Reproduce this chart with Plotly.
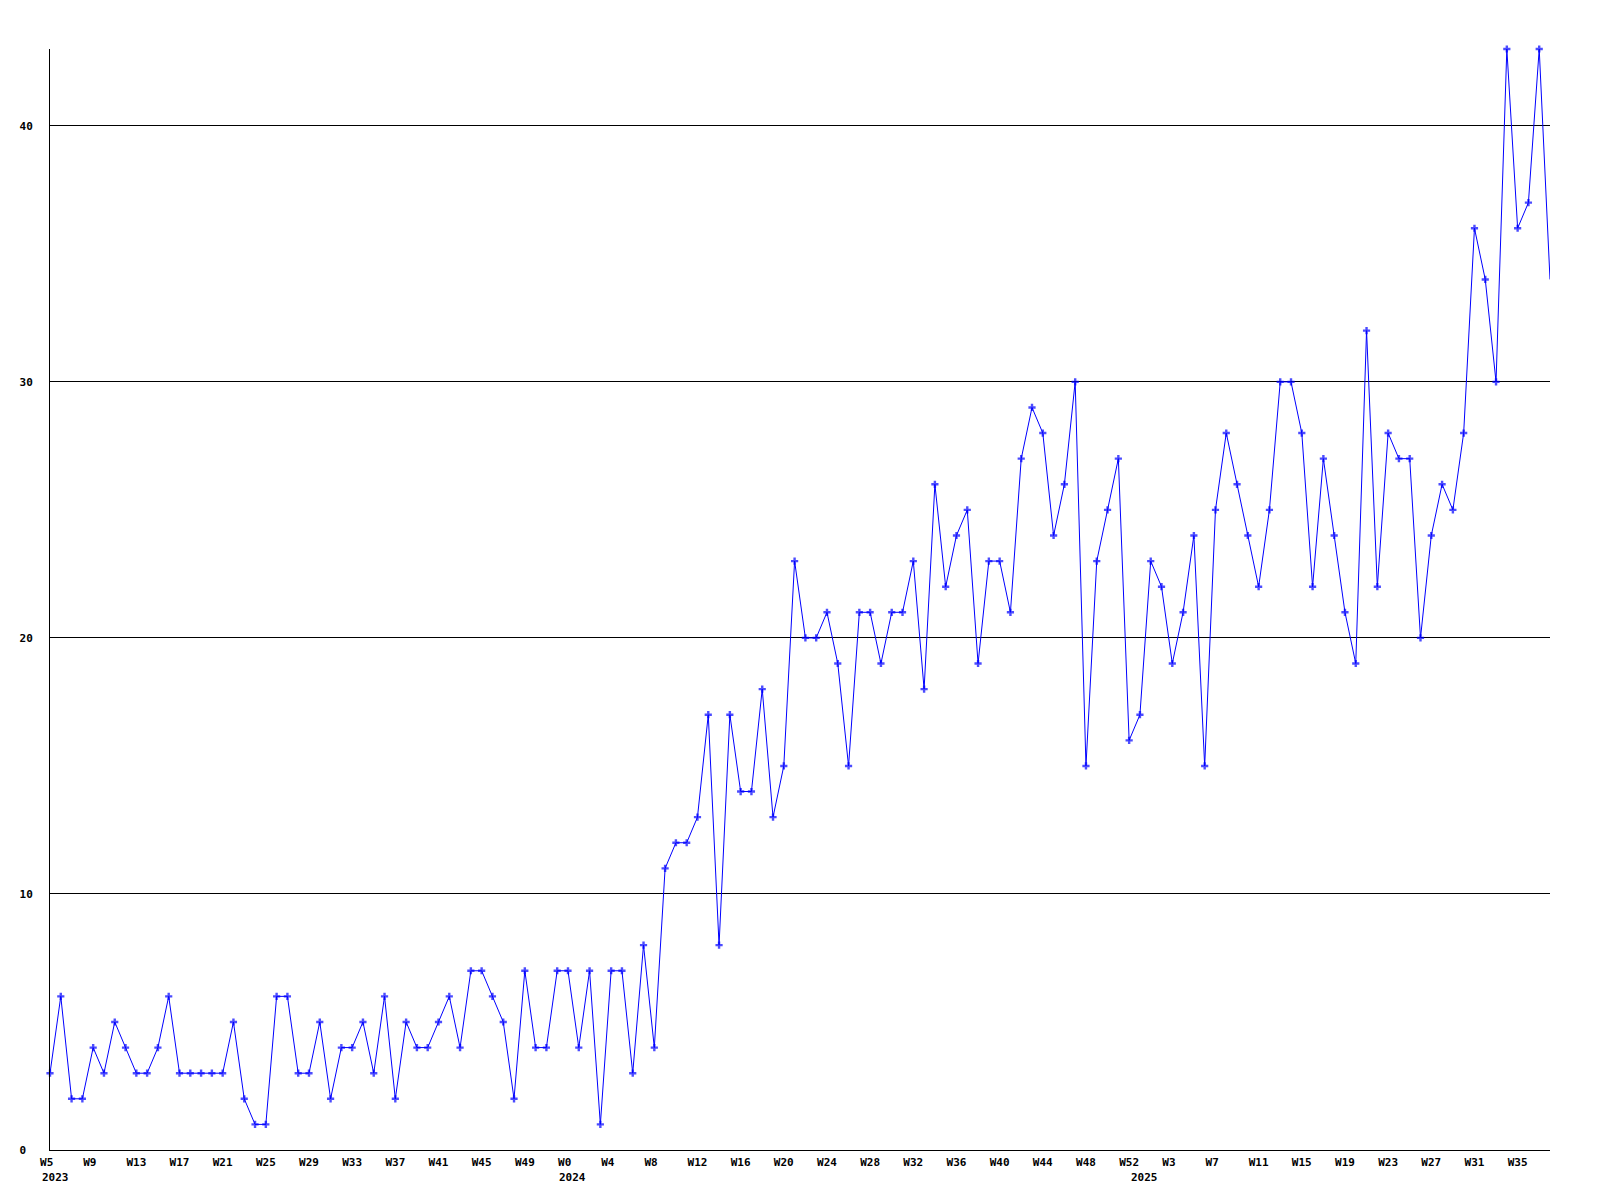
import plotly.graph_objects as go

# Weekly values, 2023 W5 .. 2025 W38
counts = [
    3, 6, 2, 2, 4, 3, 5, 4, 3, 3, 4, 6, 3, 3, 3, 3, 3, 5, 2, 1,
    1, 6, 6, 3, 3, 5, 2, 4, 4, 5, 3, 6, 2, 5, 4, 4, 5, 6, 4, 7,
    7, 6, 5, 2, 7, 4, 4, 7, 7, 4, 7, 1, 7, 7, 3, 8, 4, 11, 12, 12,
    13, 17, 8, 17, 14, 14, 18, 13, 15, 23, 20, 20, 21, 19, 15, 21, 21, 19, 21, 21,
    23, 18, 26, 22, 24, 25, 19, 23, 23, 21, 27, 29, 28, 24, 26, 30, 15, 23, 25, 27,
    16, 17, 23, 22, 19, 21, 24, 15, 25, 28, 26, 24, 22, 25, 30, 30, 28, 22, 27, 24,
    21, 19, 32, 22, 28, 27, 27, 20, 24, 26, 25, 28, 36, 34, 30, 43, 36, 37, 43, 34,
]

# Week tick labels (one every 4 weeks) and the year each label belongs to
tick_labels = [
    "W5", "W9", "W13", "W17", "W21", "W25", "W29", "W33", "W37", "W41", "W45", "W49",
    "W0", "W4", "W8", "W12", "W16", "W20", "W24", "W28", "W32", "W36", "W40", "W44", "W48", "W52",
    "W3", "W7", "W11", "W15", "W19", "W23", "W27", "W31", "W35",
]
tick_years = ["2023"] * 12 + ["2024"] * 14 + ["2025"] * 9
year_labels = ["2023", "2024", "2025"]

y_ticks = [0, 10, 20, 30, 40]

TICK_STEP = 4
x = list(range(len(counts)))
tickvals = [i * TICK_STEP for i in range(len(tick_labels))]
# pad to 3 characters so every label starts at the same offset (left-aligned look)
ticktext = [t + "\u00a0" * (3 - len(t)) for t in tick_labels]

FONT = dict(family="DejaVu Sans Mono", size=11, color="black", weight="bold")

marker_sizes = [6] * (len(counts) - 1) + [0]

fig = go.Figure()
fig.add_trace(go.Scatter(
    x=x, y=counts, mode="lines+markers",
    line=dict(color="#0000ff", width=1),
    marker=dict(symbol="cross", size=marker_sizes, color="#0000ff", line=dict(width=0)),
    cliponaxis=False, showlegend=False, hoverinfo="x+y",
))

# year annotations: placed where week 0 of that year falls
annotations = []
for yr in year_labels:
    first = tick_years.index(yr)
    wk = int(tick_labels[first][1:])
    pos = max(0, tickvals[first] - wk)
    annotations.append(dict(
        x=pos, xref="x", y=0, yref="paper", text=yr, showarrow=False,
        xanchor="left", yanchor="middle", xshift=-10.5, yshift=-27.5, font=FONT,
    ))

fig.update_layout(
    width=1584, height=1184,
    margin=dict(l=42, r=42, t=41, b=42, pad=0),
    paper_bgcolor="white", plot_bgcolor="white",
    annotations=annotations,
    font=FONT,
)
fig.update_xaxes(
    range=[0, len(counts) - 1], tickvals=tickvals, ticktext=ticktext,
    showgrid=False, zeroline=False, showline=True, linecolor="black", linewidth=1,
    ticks="", ticklabelstandoff=2, tickfont=FONT, tickangle=0,
)
fig.update_yaxes(
    range=[0, 43], tickvals=y_ticks,
    ticktext=[str(v) + "\u00a0" * (2 - len(str(v))) for v in y_ticks],
    showgrid=True, gridcolor="black", gridwidth=1,
    zeroline=False, showline=True, linecolor="black", linewidth=1,
    ticks="", ticklabelstandoff=14, tickfont=FONT,
)

fig.write_html("out.html")
